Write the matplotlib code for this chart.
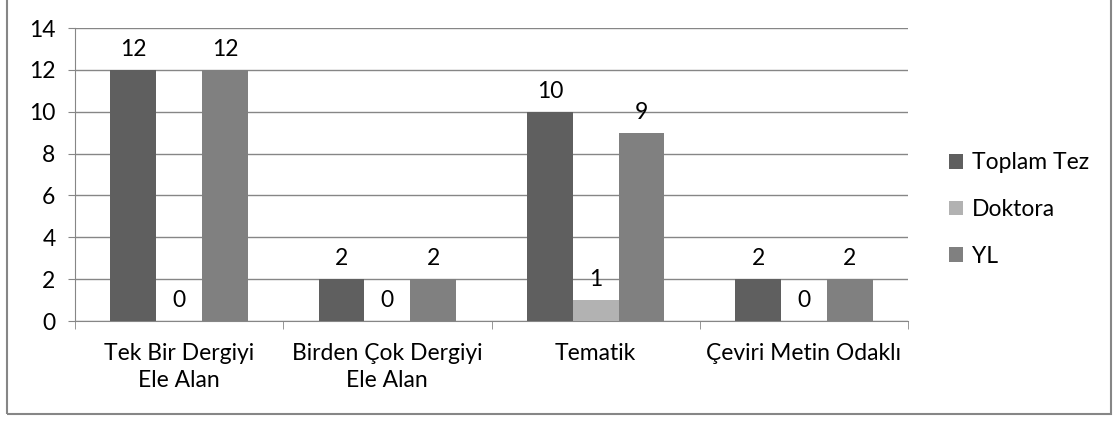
import matplotlib.pyplot as plt
import numpy as np
from matplotlib.patches import Rectangle

categories = ["Tek Bir Dergiyi\nEle Alan", "Birden Çok Dergiyi\nEle Alan", "Tematik", "Çeviri Metin Odaklı"]
series_names = ["Toplam Tez", "Doktora", "YL"]
toplam = [12, 2, 10, 2]
doktora = [0, 0, 1, 0]
yl = [12, 2, 9, 2]
colors = ["#5f5f5f", "#b2b2b2", "#808080"]
yticks = [0, 2, 4, 6, 8, 10, 12, 14]

fs = 16.5
plt.rcParams['font.family'] = ['Lato', 'DejaVu Sans']
fig = plt.figure(figsize=(11.19, 4.23), dpi=100)
ax = fig.add_axes([75 / 1119, 1 - 321 / 423, 833 / 1119, 293 / 423])

x = np.arange(len(categories))
w = 0.22
for i, (vals, name) in enumerate(zip([toplam, doktora, yl], series_names)):
    bars = ax.bar(x + (i - 1) * w, vals, w, color=colors[i], label=name, zorder=3)
    for b, v in zip(bars, vals):
        ax.annotate(str(v), (b.get_x() + b.get_width() / 2, v), xytext=(0, 7),
                    textcoords="offset points", ha="center", va="bottom", fontsize=fs)

ax.set_xlim(-0.5, len(categories) - 0.5)
ax.set_ylim(0, 14)
ax.set_yticks(yticks)
ax.tick_params(axis='y', length=5, color="#868686", labelsize=fs, pad=9)
ax.set_xticks(x)
ax.set_xticklabels(categories, fontsize=fs, linespacing=1.35)
ax.tick_params(axis='x', length=0, pad=16)
ax.set_xticks(np.arange(-0.5, len(categories) + 0.5, 1), minor=True)
ax.tick_params(axis='x', which='minor', length=6, color="#868686")
ax.grid(axis='y', color="#868686", linewidth=1, zorder=0)
for s in ["top", "right"]:
    ax.spines[s].set_visible(False)
for s in ["left", "bottom"]:
    ax.spines[s].set_color("#868686")

ax.legend(loc="center left", bbox_to_anchor=(1.025, 0.38), frameon=False, fontsize=fs,
          handlelength=0.6, handleheight=0.6, handletextpad=0.4, labelspacing=1.12)

fig.patches.append(Rectangle((7 / 1119, 9 / 423), 1104 / 1119, 420 / 423, transform=fig.transFigure,
                             fill=False, edgecolor="#868686", linewidth=1.5))

fig.savefig("out.png", dpi=100)
